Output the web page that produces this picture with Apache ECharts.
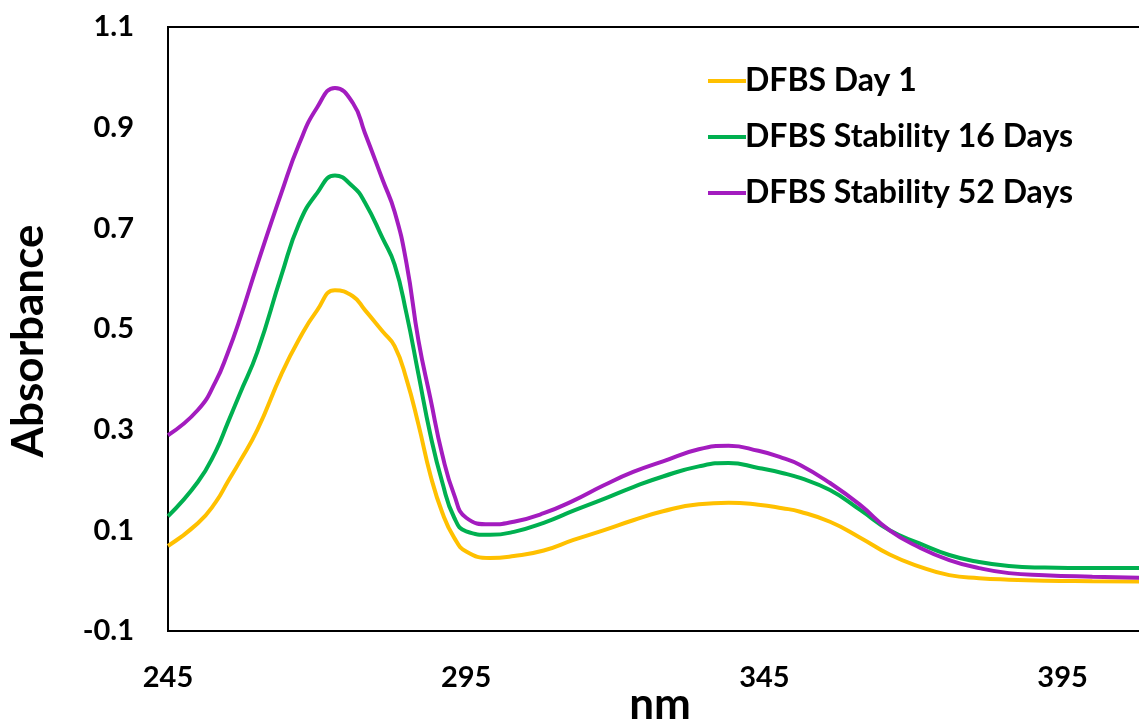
<!DOCTYPE html>
<html>
<head>
<meta charset="utf-8">
<script src="https://cdn.jsdelivr.net/npm/echarts@6/dist/echarts.min.js"></script>
<style>
html,body{margin:0;padding:0;background:#fff;}
#chart{width:1139px;height:725px;}
</style>
</head>
<body>
<div id="chart"></div>
<script>
var wavelengths = [245,250,253,255,257,260,264,267,270,273,276,278,281,283,285,287,289,291,293,295,299,303,308,313,318,323,328,334,339,344,348,351,356,361,366,371,376,381,386,392,400,410];
var day1 = [0.069,0.114,0.156,0.196,0.236,0.300,0.410,0.480,0.537,0.577,0.565,0.538,0.495,0.466,0.400,0.310,0.210,0.135,0.085,0.058,0.045,0.049,0.060,0.081,0.100,0.120,0.138,0.152,0.155,0.151,0.144,0.137,0.117,0.086,0.052,0.028,0.011,0.005,0.002,0.000,-0.001,-0.002];
var day16 = [0.128,0.196,0.257,0.313,0.370,0.455,0.606,0.710,0.770,0.805,0.783,0.752,0.680,0.628,0.530,0.410,0.290,0.195,0.125,0.098,0.091,0.097,0.115,0.139,0.162,0.186,0.207,0.227,0.234,0.224,0.214,0.204,0.180,0.141,0.100,0.074,0.051,0.037,0.029,0.026,0.025,0.025];
var day52 = [0.289,0.339,0.396,0.452,0.518,0.629,0.770,0.868,0.940,0.979,0.949,0.890,0.796,0.733,0.630,0.477,0.362,0.250,0.170,0.125,0.112,0.117,0.134,0.159,0.189,0.216,0.237,0.261,0.268,0.258,0.244,0.230,0.194,0.151,0.100,0.066,0.041,0.025,0.015,0.011,0.008,0.005];
var seriesNames = ['DFBS Day 1','DFBS Stability 16 Days','DFBS Stability 52 Days'];
var seriesColors = ['#FFC000','#00B050','#A31CBF'];

function pairs(ys){ return wavelengths.map(function(x,i){ return [x, ys[i]]; }); }
var allData = [day1, day16, day52];

var chart = echarts.init(document.getElementById('chart'));
var font = 'Lato, "Open Sans", sans-serif';
chart.setOption({
  animation: false,
  backgroundColor: '#fff',
  grid: {left: 168, top: 27, width: 984, height: 604, show: true, borderColor: '#000', borderWidth: 2,
         containLabel: false, outerBoundsMode: 'none'},
  legend: {
    orient: 'vertical', left: 703, top: 60, itemGap: 24,
    icon: 'rect', itemWidth: 38, itemHeight: 4,
    textStyle: {fontFamily: font, fontWeight: 'bold', fontSize: 32, color: '#000', padding: [0,0,0,-6]},
    data: seriesNames
  },
  xAxis: {
    type: 'value', min: 245, max: 410, interval: 50,
    name: 'nm', nameLocation: 'middle', nameGap: 52, nameMoveOverlap: false,
    nameTextStyle: {fontFamily: font, fontWeight: 'bold', fontSize: 44, color: '#000'},
    axisLine: {show: true, onZero: false, lineStyle: {color: '#000', width: 2}},
    axisTick: {show: false},
    splitLine: {show: false},
    axisLabel: {fontFamily: font, fontWeight: 'bold', fontSize: 29, color: '#000', margin: 32, showMaxLabel: false}
  },
  yAxis: {
    type: 'value', min: -0.1, max: 1.1, interval: 0.2,
    name: 'Absorbance', nameLocation: 'middle', nameGap: 117, nameRotate: 90, nameMoveOverlap: false,
    nameTextStyle: {fontFamily: font, fontWeight: 'bold', fontSize: 44, color: '#000', padding: [0, 24, 0, 0]},
    axisLine: {show: true, onZero: false, lineStyle: {color: '#000', width: 2}},
    axisTick: {show: false},
    splitLine: {show: false},
    axisLabel: {fontFamily: font, fontWeight: 'bold', fontSize: 29, color: '#000', margin: 34,
      formatter: function(v){ return (Math.round(v*10)/10).toFixed(1); }}
  },
  series: seriesNames.map(function(n, i){
    return {
      name: n, type: 'line', data: pairs(allData[i]), smooth: 0.5,
      showSymbol: false, symbol: 'none', color: seriesColors[i],
      lineStyle: {width: 4, color: seriesColors[i]}
    };
  })
});
</script>
</body>
</html>
